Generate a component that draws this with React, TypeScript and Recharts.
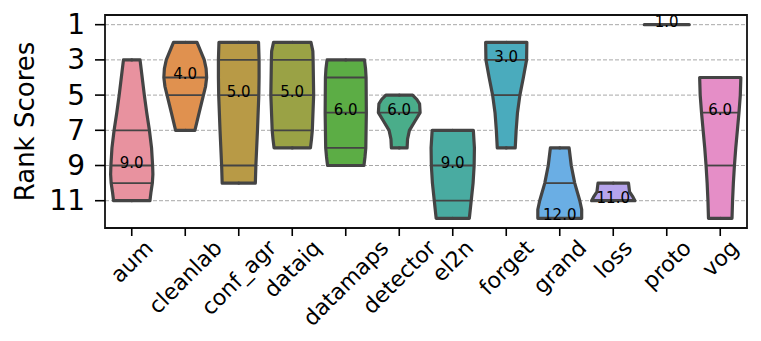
import {
  Area,
  CartesianGrid,
  ComposedChart,
  Label,
  ReferenceArea,
  ReferenceDot,
  ReferenceLine,
  XAxis,
  YAxis,
} from "recharts";

const FONT = "DejaVu Sans";
const EDGE = "#444444";

const CATEGORIES = [
  "aum", "cleanlab", "conf_agr", "dataiq", "datamaps", "detector",
  "el2n", "forget", "grand", "loss", "proto", "vog",
];
const COLORS = [
  "#e8929f", "#e0914f", "#b89a46", "#9aa245", "#5cad45", "#4aad8a",
  "#49aba1", "#4aabbd", "#6aaee4", "#b6a4ec", "#9a9a9a", "#e58ec7",
];
const MEDIANS = [9, 4, 5, 5, 6, 6, 9, 3, 12, 11, 1, 6];
const RANK_TICKS = [1, 3, 5, 7, 9, 11];

// [rank, half width], top to bottom
const AUM = [[3, 0.155], [4, 0.195], [5, 0.235], [6, 0.28], [7, 0.33], [8, 0.37], [9, 0.39], [9.5, 0.395], [10, 0.385], [10.5, 0.36], [11, 0.34]];
const CLEANLAB = [[2, 0.22], [3, 0.355], [3.5, 0.39], [4, 0.4], [4.5, 0.38], [5, 0.34], [6, 0.26], [7, 0.18]];
const CONF_AGR = [[2, 0.37], [3, 0.38], [4, 0.38], [5, 0.375], [7, 0.35], [9, 0.32], [10, 0.31]];
const DATAIQ = [[2, 0.35], [2.5, 0.385], [3, 0.39], [5, 0.4], [7, 0.375], [7.5, 0.36], [8, 0.34]];
const DATAMAPS = [[3, 0.35], [3.5, 0.37], [4, 0.38], [6, 0.385], [8, 0.375], [8.5, 0.36], [9, 0.34]];
const DETECTOR = [[5, 0.25], [5.25, 0.33], [5.5, 0.38], [6, 0.39], [6.5, 0.29], [7, 0.19], [7.5, 0.155], [8, 0.147]];
const EL2N = [[7, 0.385], [8, 0.405], [9, 0.4], [10, 0.38], [11, 0.345], [12, 0.31]];
const FORGET = [[2, 0.385], [3, 0.38], [4, 0.32], [5, 0.255], [6, 0.21], [7, 0.185], [8, 0.168]];
const GRAND = [[8, 0.175], [9, 0.215], [10, 0.28], [11, 0.375], [11.5, 0.41], [12, 0.41]];
const LOSS = [[10, 0.285], [10.5, 0.305], [10.8, 0.37], [11, 0.405]];
const PROTO = [[1, 0.42]];
const VOG = [[4, 0.385], [5, 0.375], [6, 0.35], [7, 0.32], [8, 0.29], [9, 0.265], [10, 0.245], [11, 0.23], [12, 0.22]];

const PROFILES = [AUM, CLEANLAB, CONF_AGR, DATAIQ, DATAMAPS, DETECTOR, EL2N, FORGET, GRAND, LOSS, PROTO, VOG];
const QUARTILES = [[7, 9, 10], [4, 5], [3, 5, 9], [3, 5, 7], [4, 6, 8], [6], [9, 11], [3, 5], [10, 12], [11], [], [6, 9]];

const keys = CATEGORIES.map((_, i) => `v${i}`);

// one row per outline point; closed at both ends with a zero-width row
const rows: any[] = [];
PROFILES.forEach((prof, i) => {
  const pts = [[prof[0][0], 0], ...prof, [prof[prof.length - 1][0], 0]];
  pts.forEach(([r, w]) => {
    const row: any = { rank: r };
    keys.forEach((k) => (row[k] = [null, null]));
    row[keys[i]] = [i - w, i + w];
    rows.push(row);
  });
});

const quartileLines = QUARTILES.flatMap((qs, i) =>
  qs.map((q) => {
    const w = (PROFILES[i].find((p) => p[0] === q) || [q, 0])[1];
    return { i, q, w };
  })
);

let ctx: CanvasRenderingContext2D | null = null;
function textWidth(s: string, size: number) {
  if (!ctx) ctx = document.createElement("canvas").getContext("2d");
  if (!ctx) return s.length * size * 0.6;
  ctx.font = `${size}px "${FONT}"`;
  return ctx.measureText(s).width;
}

const XFS = 22;
const YFS = 28;

function XTick({ x, y, payload }: any) {
  const name = CATEGORIES[payload.value] ?? "";
  const L = textWidth(name, XFS);
  const d = ((L + XFS * 1.05) * Math.SQRT1_2) / 2;
  const cy = y + d;
  return (
    <text
      x={x}
      y={cy}
      transform={`rotate(-45 ${x} ${cy})`}
      textAnchor="middle"
      dominantBaseline="central"
      fontSize={XFS}
      fill="#000"
    >
      {name}
    </text>
  );
}

function YTick({ x, y, payload }: any) {
  return (
    <text x={x} y={y} textAnchor="end" dominantBaseline="central" fontSize={YFS} fill="#000">
      {payload.value}
    </text>
  );
}

export default function App() {
  return (
    <div>
      <style>{`body{margin:0}`}</style>
      <ComposedChart
        width={761}
        height={341}
        data={rows}
        layout="vertical"
        margin={{ top: 15, right: 14, bottom: 0, left: 0 }}
        style={{ fontFamily: FONT, background: "#fff" }}
      >
        <CartesianGrid
          vertical={false}
          stroke="#a8a8a8"
          strokeDasharray="4 2"
          strokeWidth={1}
        />
        <XAxis
          type="number"
          domain={[-0.5, 11.5]}
          allowDataOverflow
          ticks={CATEGORIES.map((_, i) => i)}
          interval={0}
          height={113}
          axisLine={false}
          tickLine={{ stroke: "#000", strokeWidth: 1.6 }}
          tickSize={8}
          tickMargin={0}
          tick={<XTick />}
        />
        <YAxis
          type="number"
          dataKey="rank"
          domain={[0.45, 12.55]}
          allowDataOverflow
          ticks={RANK_TICKS}
          interval={0}
          width={105}
          axisLine={false}
          tickLine={{ stroke: "#000", strokeWidth: 1.6 }}
          tickSize={10}
          tickMargin={10}
          tick={<YTick />}
        >
          <Label
            content={({ viewBox }: any) => {
              const cx = (viewBox?.x ?? 0) + 25;
              const cy = (viewBox?.y ?? 0) + (viewBox?.height ?? 0) / 2;
              return (
                <text
                  x={cx}
                  y={cy}
                  transform={`rotate(-90 ${cx} ${cy})`}
                  textAnchor="middle"
                  dominantBaseline="central"
                  fontSize={26}
                  fill="#000"
                >
                  Rank Scores
                </text>
              );
            }}
          />
        </YAxis>
        {keys.map((k, i) => (
          <Area
            key={k}
            dataKey={k}
            type="linear"
            connectNulls
            fill={COLORS[i]}
            fillOpacity={1}
            stroke={EDGE}
            strokeWidth={3.2}
            strokeLinejoin="round"
            strokeLinecap="round"
            dot={false}
            activeDot={false}
            isAnimationActive={false}
          />
        ))}
        {quartileLines.map(({ i, q, w }) => (
          <ReferenceLine
            key={`q${i}-${q}`}
            segment={[
              { x: i - w, y: q },
              { x: i + w, y: q },
            ]}
            stroke={EDGE}
            strokeWidth={1.8}
            ifOverflow="visible"
          />
        ))}
        {MEDIANS.map((m, i) => (
          <ReferenceDot
            key={`m${i}`}
            x={i}
            y={m}
            r={0}
            ifOverflow="visible"
            shape={(p: any) => (
              <text
                x={p.cx}
                y={p.cy - 3}
                textAnchor="middle"
                dominantBaseline="central"
                fontSize={15}
                fill="#000"
              >
                {m.toFixed(1)}
              </text>
            )}
          />
        ))}
        <ReferenceArea
          x1={-0.5}
          x2={11.5}
          y1={0.45}
          y2={12.55}
          fill="none"
          stroke="#111"
          strokeWidth={1.8}
          ifOverflow="visible"
        />
      </ComposedChart>
    </div>
  );
}
